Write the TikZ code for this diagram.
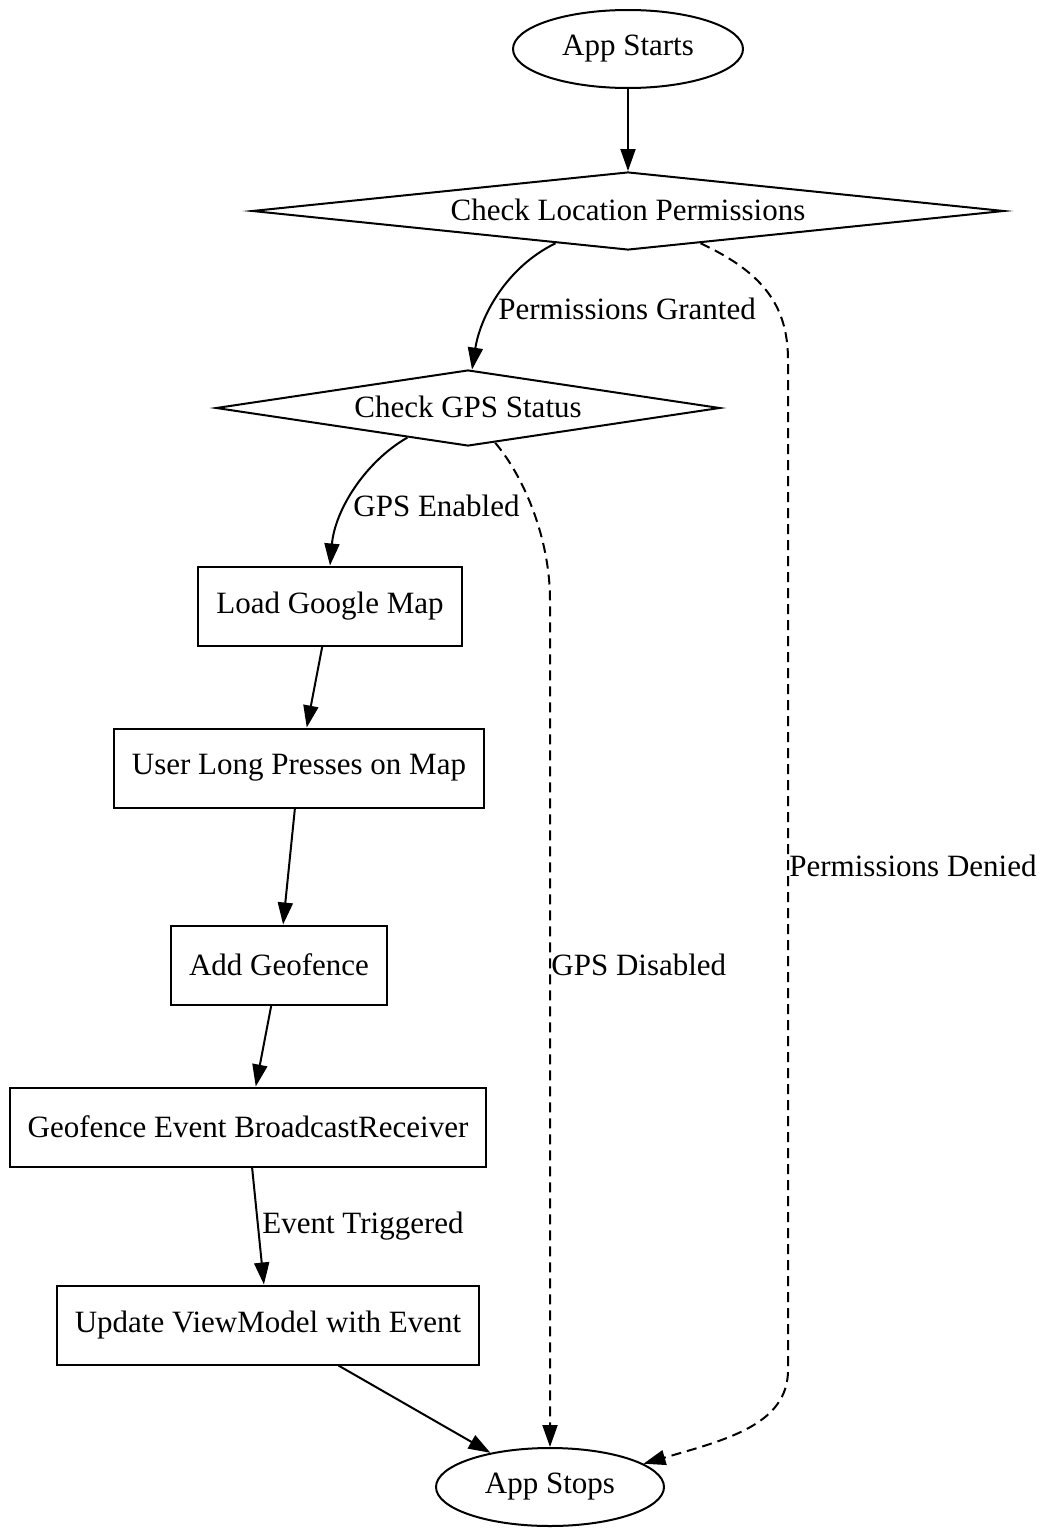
\documentclass[tikz,border=0pt]{standalone}
\usepackage{fontspec}
\setmainfont{Liberation Serif}
\usetikzlibrary{shapes.geometric, arrows.meta}
\tikzset{
    base/.style={
        draw=black,
        line width=1pt,
        inner sep=0pt,
        align=center,
        font=\fontsize{15.5}{18}\selectfont
    },
    terminal/.style={
        base,
        ellipse,
        minimum height=39pt
    },
    decision/.style={
        base,
        diamond,
        text height=11pt,
        text depth=2pt
    },
    box/.style={
        base,
        rectangle,
        inner xsep=9pt,
        minimum height=39.5pt
    },
    arrow/.style={
        -{Triangle[length=11pt,width=7.5pt]},
        line width=1pt
    },
    dasharrow/.style={
        arrow,
        dash pattern=on 5pt off 3pt
    },
    edgelabel/.style={
        anchor=west,
        inner sep=0pt,
        font=\fontsize{15.5}{18}\selectfont
    }
}
\begin{document}
\begin{tikzpicture}[x=0.5pt,y=-0.5pt]
    \useasboundingbox (0,0) rectangle (1046,1536);

    % Start and checks
    \node[terminal, minimum width=115pt] (start) at (628,49) {App Starts};
    \node[decision, aspect=9.3, minimum width=376pt, minimum height=39pt] (locperm) at (628,211) {Check Location Permissions};
    \node[decision, aspect=6.3, minimum width=252pt, minimum height=38pt] (gpscheck) at (468,408) {Check GPS Status};

    % Main flow
    \node[box] (loadmap) at (330,606) {Load Google Map};
    \node[box] (longpress) at (299,768) {User Long Presses on Map};
    \node[box] (addfence) at (279,965) {Add Geofence};
    \node[box] (receiver) at (248,1127) {Geofence Event BroadcastReceiver};
    \node[box] (update) at (268,1325) {Update ViewModel with Event};

    % End
    \node[terminal, minimum width=114pt] (stop) at (550,1487) {App Stops};

    % Labels
    \node[edgelabel] (lgranted) at (498,309) {Permissions Granted};
    \node[edgelabel] (lenabled) at (353,506) {GPS Enabled};
    \node[edgelabel] (ldisabled) at (551,965) {GPS Disabled};
    \node[edgelabel] (ldenied) at (789,866) {Permissions Denied};
    \node[edgelabel] (ltriggered) at (262,1226) {Event Triggered};

    % Arrows
    \draw[arrow] (start) -- (locperm);
    \draw[arrow] (locperm.-156) .. controls (505,268) and (480,318) .. (gpscheck.84);
    \draw[arrow] (gpscheck.-154) .. controls (365,462) and (335,510) .. (loadmap.north);
    \draw[arrow] (loadmap) -- (longpress);
    \draw[arrow] (longpress) -- (addfence);
    \draw[arrow] (addfence) -- (receiver);
    \draw[arrow] (receiver) -- (update);
    \draw[arrow] (update) -- (stop);

    % Failure paths
    \draw[dasharrow] (gpscheck.-52) .. controls (525,478) and (550,540) .. (550,600) -- (stop);
    \draw[dasharrow] (locperm.-24) .. controls (762,272) and (788,305) .. (788,360)
        -- (788,1370) .. controls (788,1425) and (725,1440) .. (stop.14);

\end{tikzpicture}
\end{document}
